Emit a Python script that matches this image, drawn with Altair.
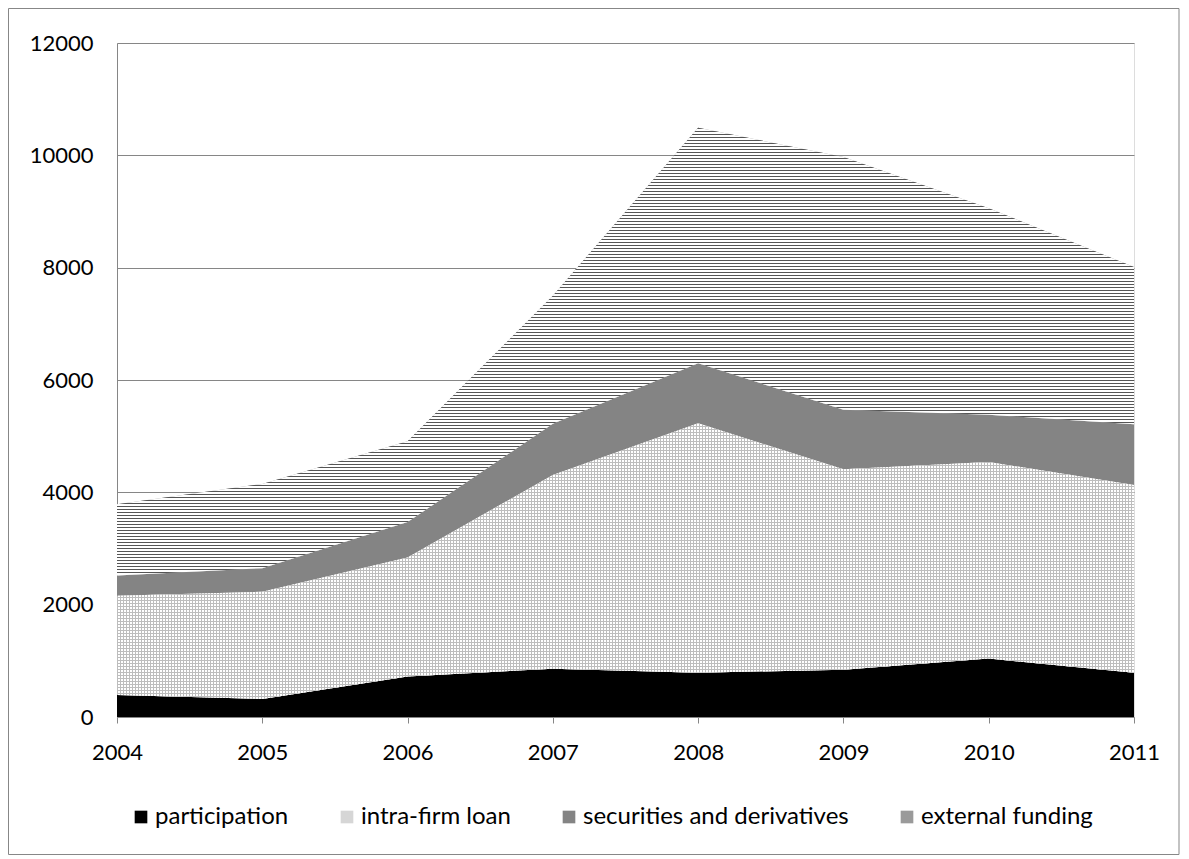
import altair as alt
import pandas as pd

years = [2004, 2005, 2006, 2007, 2008, 2009, 2010, 2011]
series = ["participation", "intra-firm loan", "securities and derivatives", "external funding"]
participation = [390, 320, 720, 860, 790, 840, 1040, 790]
intra_firm_loan = [1770, 1910, 2120, 3450, 4440, 3570, 3500, 3340]
securities = [360, 420, 630, 910, 1070, 1060, 840, 1080]
external_funding = [1270, 1500, 1440, 2280, 4190, 4500, 3680, 2800]
y_ticks = [0, 2000, 4000, 6000, 8000, 10000, 12000]

values = [participation, intra_firm_loan, securities, external_funding]
rows = []
for k, (name, vals) in enumerate(zip(series, values)):
    for yr, v in zip(years, vals):
        rows.append({"year": yr, "series": name, "value": v, "order": k})
df = pd.DataFrame(rows)

W, H = 1017, 674
Y_MAX = 12000
FONT = "Lato"
GRID = "#868686"
AX_FS = 22
LEG_FS = 24


def stripes(length_px, period_px, line_px, dark, light, horizontal_lines=True):
    """Linear gradient of evenly spaced lines, sized to the mark's bounding box."""
    stops = []
    pos = 0.0
    while pos < length_px - 1e-9:
        a = pos / length_px
        b = min(pos + line_px, length_px) / length_px
        c = min(pos + period_px, length_px) / length_px
        stops += [
            {"offset": round(a, 7), "color": dark},
            {"offset": round(b, 7), "color": dark},
            {"offset": round(b, 7), "color": light},
            {"offset": round(c, 7), "color": light},
        ]
        pos += period_px
    g = {"gradient": "linear", "stops": stops, "x1": 0, "y1": 0}
    if horizontal_lines:
        g.update({"x2": 0, "y2": 1})
    else:
        g.update({"x2": 1, "y2": 0})
    return g


# heights (in px) of the bounding boxes of the patterned areas
cum1 = participation
cum2 = [a + b for a, b in zip(cum1, intra_firm_loan)]
cum3 = [a + b for a, b in zip(cum2, securities)]
cum4 = [a + b for a, b in zip(cum3, external_funding)]
ext_h = (max(cum4) - min(cum3)) / Y_MAX * H
intra_h_px = (max(cum2) - min(cum1)) / Y_MAX * H

x_enc = alt.X(
    "year:O",
    scale=alt.Scale(type="point", padding=0),
    axis=alt.Axis(
        title=None, labelAngle=0, labelFontSize=AX_FS, labelColor="black", labelFont=FONT,
        domainColor=GRID, tickColor=GRID, tickSize=6, labelPadding=19, grid=False,
    ),
)
y_axis = alt.Axis(
    title=None, values=y_ticks, ticks=False, labelPadding=24, labelFontSize=AX_FS,
    labelColor="black", labelFont=FONT, domainColor=GRID, gridColor=GRID,
    labelBaseline="middle", grid=True, format="d",
)
y_scale = alt.Scale(domain=[0, Y_MAX], nice=False)

base = alt.Chart(df).mark_area(interpolate="linear").encode(
    x=x_enc,
    y=alt.Y("value:Q", stack="zero", scale=y_scale, axis=y_axis),
    color=alt.Color(
        "series:N",
        scale=alt.Scale(domain=series, range=["#000000", "#d6d6d6", "#848484", "#9a9a9a"]),
        legend=alt.Legend(
            title=None, orient="none", direction="horizontal", legendX=12, legendY=762,
            symbolType="square", symbolSize=160, symbolStrokeWidth=0, labelFontSize=LEG_FS,
            labelFont=FONT, labelColor="black", labelOffset=2, columnPadding=46,
            symbolOpacity=1, labelLimit=0,
        ),
    ),
    order=alt.Order("order:Q", sort="ascending"),
)


def overlay(name, fill):
    return (
        alt.Chart(df)
        .transform_stack(stack="value", groupby=["year"],
                         sort=[alt.SortField("order", order="ascending")], as_=["y0", "y1"])
        .transform_filter(alt.datum.series == name)
        .mark_area(interpolate="linear", color=fill)
        .encode(x=x_enc, y=alt.Y("y1:Q", scale=y_scale, axis=y_axis), y2="y0:Q")
    )


ext_layer = overlay("external funding", stripes(ext_h, 3, 1.5, "#555555", "#ffffff"))
intra_v = overlay("intra-firm loan", stripes(W, 3, 1, "#bdbdbd", "#ffffff", horizontal_lines=False))
intra_h = overlay("intra-firm loan", stripes(intra_h_px, 3, 1, "#bdbdbd", "rgba(255,255,255,0)"))

border = alt.Chart(alt.Data(values=[{"b": 1}])).mark_rect(
    fill="transparent", stroke="#878787", strokeWidth=1
).encode(
    x=alt.value(-108.5), x2=alt.value(W + 45), y=alt.value(-34.5), y2=alt.value(H + 137.5)
)

chart = (
    alt.layer(base, ext_layer, intra_v, intra_h, border)
    .properties(
        width=W, height=H,
        autosize=alt.AutoSizeParams(type="none"),
        padding={"left": 109, "top": 35, "right": 46, "bottom": 140},
        background="white",
    )
    .configure_view(stroke=None)
    .configure(font=FONT)
)

chart.save("out.html", embed_options={"renderer": "svg", "actions": False})
